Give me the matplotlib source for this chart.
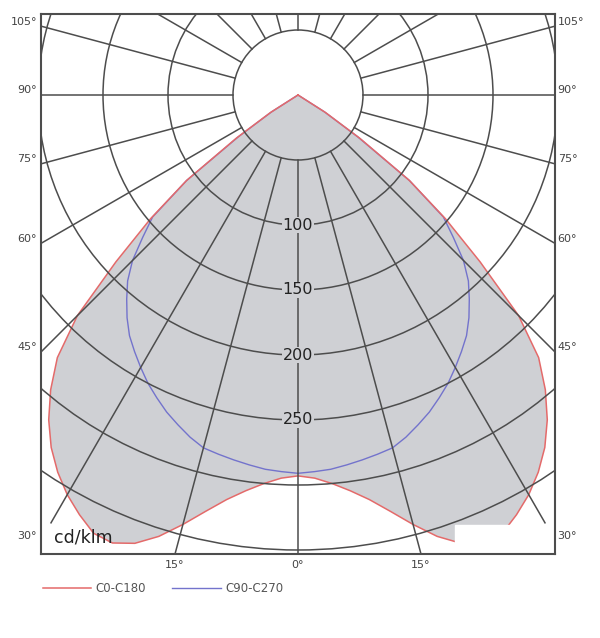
import numpy as np
import matplotlib
matplotlib.use('Agg')
import matplotlib.pyplot as plt
from matplotlib.patches import Circle, Rectangle

# luminous intensity (cd/klm), angle from nadir in degrees
angles = [0, 2.5, 5, 7.5, 10, 12.5, 15, 17.5, 20, 22.5, 25, 27.5, 30,
          32.5, 35, 37.5, 40, 42.5, 45, 47.5, 50, 52.5, 55, 57.5, 60]
c0_c180 = [293, 295, 300, 307, 316, 328, 342, 356, 367, 373, 372, 364, 355,
           344, 331, 315, 296, 274, 240, 190, 148, 108, 58, 25, 0]
c90_c270 = [291, 290, 289, 287, 285, 283, 281, 276, 270, 264, 257, 250, 242,
            234, 226, 216, 205, 194, 180, 162, 146, 108, 56, 24, 0]

rings = [50, 100, 150, 200, 250, 300, 350]
ring_labels = [100, 150, 200, 250]
spokes = np.arange(0, 360, 15)
side_labels = [105, 90, 75, 60, 45, 30]
bottom_labels = [15, 0, 15]

GRID = '#4d4d4d'
FILL = '#cfd0d4'
RED = '#e46a6a'
BLUE = '#7373cc'


def to_xy(ang, vals, sign):
    a = np.radians(ang) * sign
    v = np.array(vals, dtype=float)
    return v * np.sin(a), -v * np.cos(a)


def full_curve(vals):
    xl, yl = to_xy(angles[::-1], vals[::-1], -1)
    xr, yr = to_xy(angles, vals, 1)
    return np.concatenate([xl, xr]), np.concatenate([yl, yr])


scale = 1.3  # px per cd/klm
fig = plt.figure(figsize=(6, 6.38), dpi=100)
ax = fig.add_axes([41 / 600, (638 - 554) / 638, 514 / 600, 540 / 638])
ax.set_xlim(-257 / scale, 257 / scale)
ax.set_ylim(-(554 - 95) / scale, (95 - 14) / scale)

# curves
xr, yr = full_curve(c0_c180)
xb, yb = full_curve(c90_c270)
ax.fill(xr, yr, color=FILL, zorder=1, lw=0)
l2, = ax.plot(xb, yb, color=BLUE, lw=1.0, zorder=2, label='C90-C270')
l1, = ax.plot(xr, yr, color=RED, lw=1.1, zorder=2.5, label='C0-C180')

# patch in the original picture
ax.add_patch(Rectangle(((455 - 298) / scale, -(551 - 95) / scale),
                       62 / scale, 26 / scale, color='white', zorder=3))

# polar grid
for r in rings:
    ax.add_patch(Circle((0, 0), r, fill=False, ec=GRID, lw=1.1, zorder=4))
for s in spokes:
    a = np.radians(s)
    ax.plot([50 * np.sin(a), 380 * np.sin(a)], [-50 * np.cos(a), -380 * np.cos(a)],
            color=GRID, lw=1.1, zorder=4)

for r in ring_labels:
    ax.text(0, -r, str(r), ha='center', va='center', fontsize=11.5, color='#222',
            zorder=5, bbox=dict(fc=FILL, ec='none', pad=0.5))

# angle labels on the frame
xe = 257 / scale
for s in side_labels:
    y = -xe / np.tan(np.radians(s)) + 3.5
    ax.text(-xe - 3, y, f'{s}°', ha='right', va='center', fontsize=8, color='#444', clip_on=False)
    ax.text(xe + 2, y, f'{s}°', ha='left', va='center', fontsize=8, color='#444', clip_on=False)
yb0 = -(554 - 95) / scale
for i, s in enumerate(bottom_labels):
    sign = [-1, 0, 1][i]
    x = sign * abs(yb0) * np.tan(np.radians(s))
    ax.text(x, yb0 - 5, f'{s}°', ha='center', va='top', fontsize=8, color='#444', clip_on=False)

ax.text(-188, -340, 'cd/klm', ha='left', va='center', fontsize=12.5, color='#222', zorder=5)

ax.set_xticks([])
ax.set_yticks([])
for sp in ax.spines.values():
    sp.set_color(GRID)
    sp.set_linewidth(1.5)
    sp.set_zorder(6)

fig.legend(handles=[l1, l2], loc='center left', bbox_to_anchor=(32 / 600, 1 - 589 / 638),
           ncol=2, frameon=False, handlelength=4.1, columnspacing=2.2, handletextpad=0.4,
           fontsize=8.5, labelcolor='#555')

fig.savefig('out.png', dpi=100, facecolor='white')
